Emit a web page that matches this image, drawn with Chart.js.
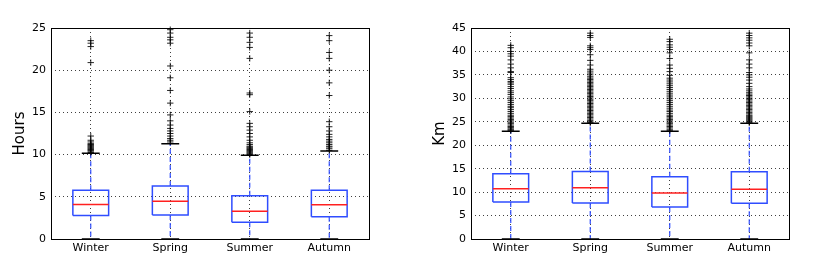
<!DOCTYPE html>
<html>
<head>
<meta charset="utf-8">
<script src="https://cdn.jsdelivr.net/npm/chart.js@4/dist/chart.umd.min.js"></script>
<style>
  html, body { margin: 0; padding: 0; background: #fff; }
  #wrap { position: relative; width: 830px; height: 274px; }
  .pane { position: absolute; top: 0; width: 415px; height: 274px; }
</style>
</head>
<body>
<div id="wrap">
  <div class="pane" style="left:0"><canvas id="c1" width="415" height="274"></canvas></div>
  <div class="pane" style="left:415px"><canvas id="c2" width="415" height="274"></canvas></div>
</div>
<script>
// ---- data ----
const seasons = ['Winter', 'Spring', 'Summer', 'Autumn'];

// Left panel: Hours
const hoursQ1 = [2.77, 2.84, 1.97, 2.64];
const hoursMedian = [4.10, 4.47, 3.28, 4.07];
const hoursQ3 = [5.77, 6.28, 5.13, 5.77];
const hoursWhiskerLow = [0, 0, 0, 0];
const hoursWhiskerHigh = [10.15, 11.3, 9.92, 10.43];
const hoursOutWinter = [10.25, 10.4, 10.5, 10.6, 10.7, 10.8, 10.9, 11.0, 11.1, 11.2, 11.3, 11.5, 11.7, 12.2, 20.9, 22.8, 23.2, 23.5];
const hoursOutSpring = [11.5, 11.7, 11.9, 12.2, 12.5, 12.8, 13.1, 13.5, 14.0, 14.7, 16.1, 17.6, 19.1, 20.5, 23.2, 23.6, 23.9, 24.4, 24.8];
const hoursOutSummer = [10.0, 10.1, 10.2, 10.3, 10.4, 10.5, 10.6, 10.7, 10.8, 10.9, 11.0, 11.2, 11.4, 11.7, 12.1, 12.5, 12.9, 13.3, 13.7, 15.1, 17.1, 17.3, 21.4, 22.7, 23.3, 23.9, 24.4];
const hoursOutAutumn = [10.5, 10.7, 10.9, 11.0, 11.2, 11.4, 11.6, 11.8, 12.1, 12.4, 12.8, 13.3, 13.9, 17.0, 18.5, 20.0, 21.4, 22.1, 23.5, 24.1];
const hoursTicks = [0, 5, 10, 15, 20, 25];

// Right panel: Km
const kmQ1 = [7.89, 7.68, 6.82, 7.61];
const kmMedian = [10.73, 10.95, 9.81, 10.60];
const kmQ3 = [13.93, 14.40, 13.30, 14.36];
const kmWhiskerLow = [0, 0, 0, 0];
const kmWhiskerHigh = [22.96, 24.67, 22.96, 24.67];
const kmOutWinter = [23.1, 23.3, 23.5, 23.8, 24.0, 24.3, 24.6, 24.9, 25.2, 25.5, 25.8, 26.1, 26.4, 26.8, 27.2, 27.6, 28.0, 28.3, 28.7, 29.1, 29.5, 29.9, 30.3, 30.8, 31.2, 31.6, 32.1, 32.5, 33.0, 33.3, 33.6, 34.0, 34.4, 35.5, 35.7, 36.5, 37.3, 38.2, 39.0, 39.5, 40.0, 40.8, 41.3];
const kmOutSpring = [24.8, 25.0, 25.3, 25.6, 25.9, 26.2, 26.5, 26.8, 27.1, 27.4, 27.7, 28.0, 28.3, 28.6, 28.9, 29.2, 29.5, 29.8, 30.1, 30.4, 30.7, 31.0, 31.3, 31.6, 31.9, 32.2, 32.5, 32.8, 33.1, 33.4, 33.7, 34.0, 34.3, 34.6, 35.0, 35.4, 35.8, 36.2, 37.1, 38.1, 39.3, 40.4, 40.8, 41.2, 43.0, 43.4, 43.9];
const kmOutSummer = [23.1, 23.4, 23.7, 24.0, 24.3, 24.6, 24.9, 25.2, 25.5, 25.8, 26.1, 26.4, 26.8, 27.2, 27.5, 27.9, 28.3, 28.7, 29.1, 29.5, 29.9, 30.3, 30.7, 31.1, 31.5, 31.9, 32.3, 32.7, 33.1, 33.5, 33.9, 34.3, 34.9, 35.7, 36.4, 37.1, 38.5, 39.7, 40.4, 40.9, 41.4, 42.1, 42.6];
const kmOutAutumn = [24.8, 25.0, 25.2, 25.4, 25.6, 25.8, 26.0, 26.2, 26.4, 26.7, 27.0, 27.3, 27.6, 27.9, 28.2, 28.5, 28.8, 29.1, 29.4, 29.7, 30.0, 30.3, 30.6, 30.9, 31.2, 31.6, 32.0, 32.5, 33.2, 33.9, 34.5, 35.0, 35.5, 36.5, 37.3, 38.2, 39.7, 41.2, 41.8, 42.4, 42.9, 43.4, 43.9];
const kmTicks = [0, 5, 10, 15, 20, 25, 30, 35, 40, 45];

// ---- styles ----
const FONT = "'DejaVu Sans', 'Liberation Sans', sans-serif";
const BOX_W = 0.45;
const CAP_W = 0.225;
const BLUE = '#2f4dff';

const framePlugin = {
  id: 'frame',
  afterDraw(chart) {
    const a = chart.chartArea, ctx = chart.ctx;
    ctx.save();
    ctx.strokeStyle = '#000';
    ctx.lineWidth = 1;
    ctx.strokeRect(Math.round(a.left) + 0.5, Math.round(a.top) + 0.5,
                   Math.round(a.right - a.left), Math.round(a.bottom - a.top));
    ctx.restore();
  }
};

function buildChart(id, cats, q1, med, q3, lo, hi, outs, ticks, title, yAxisWidth, titlePadTop, padRight) {
  const boxPts = [], medPts = [], whiskPts = [], capPts = [], outPts = [];
  cats.forEach((c, i) => {
    const p = i + 1, h = BOX_W / 2, ch = CAP_W / 2;
    boxPts.push({x: p - h, y: q1[i]}, {x: p + h, y: q1[i]}, {x: p + h, y: q3[i]},
                {x: p - h, y: q3[i]}, {x: p - h, y: q1[i]}, {x: p, y: null});
    medPts.push({x: p - h, y: med[i]}, {x: p + h, y: med[i]}, {x: p, y: null});
    whiskPts.push({x: p, y: q3[i]}, {x: p, y: hi[i]}, {x: p, y: null},
                  {x: p, y: q1[i]}, {x: p, y: lo[i]}, {x: p, y: null});
    capPts.push({x: p - ch, y: hi[i]}, {x: p + ch, y: hi[i]}, {x: p, y: null},
                {x: p - ch, y: lo[i]}, {x: p + ch, y: lo[i]}, {x: p, y: null});
    outs[i].forEach(v => outPts.push({x: p, y: v}));
  });
  const lineBase = {type: 'line', pointRadius: 0, tension: 0, spanGaps: false, fill: false};
  new Chart(document.getElementById(id), {
    data: {
      datasets: [
        {type: 'scatter', data: outPts, pointStyle: 'cross', pointRadius: 3.2,
         borderColor: 'rgba(0,0,0,0.85)', backgroundColor: 'rgba(0,0,0,0)', borderWidth: 1, clip: false},
        Object.assign({}, lineBase, {data: medPts, borderColor: '#ff2020', borderWidth: 1.5}),
        Object.assign({}, lineBase, {data: boxPts, borderColor: BLUE, borderWidth: 1.5, borderJoinStyle: 'miter'}),
        Object.assign({}, lineBase, {data: capPts, borderColor: '#000', borderWidth: 1.5, clip: false}),
        Object.assign({}, lineBase, {data: whiskPts, borderColor: BLUE, borderWidth: 1.2, borderDash: [5, 3]})
      ]
    },
    options: {
      responsive: false,
      animation: false,
      events: [],
      layout: {padding: {top: 28, right: padRight, bottom: 0, left: 0}},
      plugins: {legend: {display: false}, tooltip: {enabled: false}},
      scales: {
        x: {
          type: 'linear', min: 0.5, max: 4.5,
          afterBuildTicks: axis => { axis.ticks = cats.map((c, i) => ({value: i + 1})); },
          afterFit: s => { s.height = 35; },
          ticks: {
            callback: v => cats[Math.round(v) - 1] || '',
            autoSkip: false, maxRotation: 0, padding: 3,
            color: '#000', font: {family: FONT, size: 11}
          },
          grid: {color: 'rgba(0,0,0,0.75)', lineWidth: 1, drawTicks: false},
          border: {display: false, dash: [1, 3]}
        },
        y: {
          type: 'linear', min: ticks[0], max: ticks[ticks.length - 1],
          afterBuildTicks: axis => { axis.ticks = ticks.map(v => ({value: v})); },
          afterFit: s => { s.width = yAxisWidth; },
          ticks: {padding: 5, color: '#000', font: {family: FONT, size: 11}},
          grid: {color: 'rgba(0,0,0,0.75)', lineWidth: 1, drawTicks: false},
          border: {display: false, dash: [1, 3]},
          title: {display: true, text: title, color: '#000',
                  font: {family: FONT, size: 15}, padding: {top: titlePadTop, bottom: 0}}
        }
      }
    },
    plugins: [framePlugin]
  });
}

buildChart('c1', seasons, hoursQ1, hoursMedian, hoursQ3, hoursWhiskerLow, hoursWhiskerHigh,
  [hoursOutWinter, hoursOutSpring, hoursOutSummer, hoursOutAutumn], hoursTicks, 'Hours', 51, 11, 46);
buildChart('c2', seasons, kmQ1, kmMedian, kmQ3, kmWhiskerLow, kmWhiskerHigh,
  [kmOutWinter, kmOutSpring, kmOutSummer, kmOutAutumn], kmTicks, 'Km', 56, 16, 41);
</script>
</body>
</html>
